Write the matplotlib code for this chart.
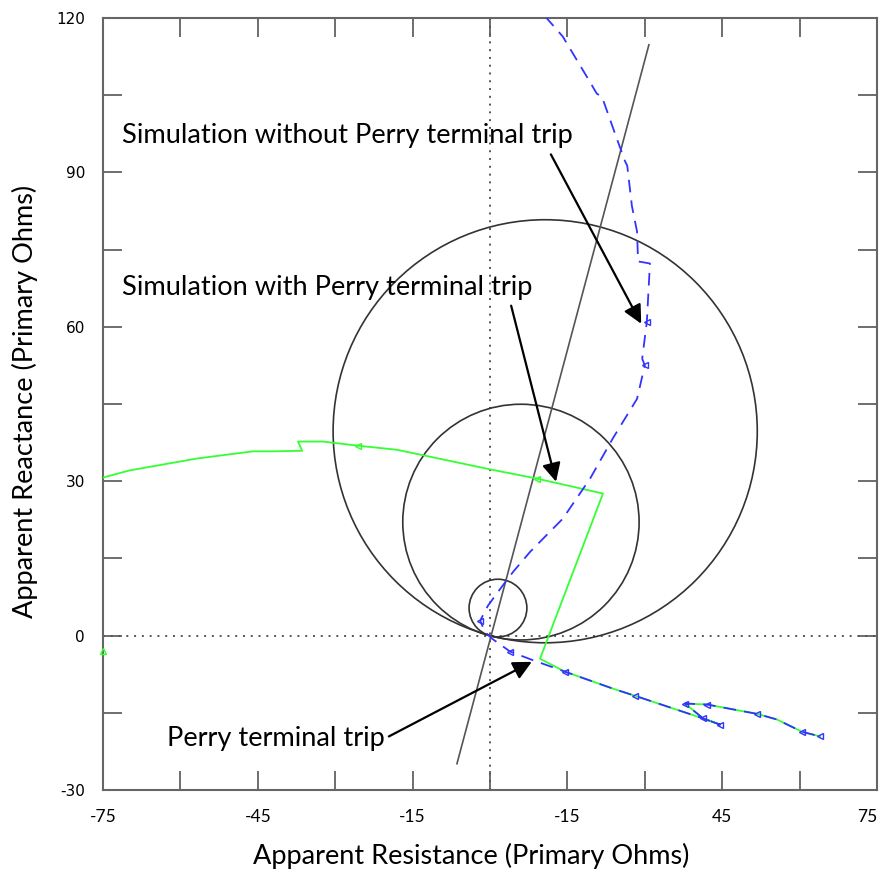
import numpy as np
import matplotlib.pyplot as plt
from matplotlib.patches import Circle

plt.rcParams['axes.unicode_minus'] = False

# mho circles (centre R, centre X, radius)
circ_r = [10.7, 6.0, 1.55]
circ_x = [39.7, 22.05, 5.35]
circ_rad = [41.1, 22.9, 5.6]

# line angle characteristic
line_r = [-6.4, 30.8]
line_x = [-24.9, 114.8]

# simulation without Perry terminal trip (blue)
blue_r = [10.7, 14.1, 19.0, 20.7, 21.7, 24.6, 26.2, 26.6, 27.5, 28.5, 28.7, 31.0, 30.4, 29.5,
          30.0, 28.5, 23.8, 19.4, 14.1, 7.8, 4.5, 2.3, -0.4, -1.9, -1.0, 0.4, 3.9, 8.1, 14.5,
          23.8, 28.1, 36.8, 41.3, 44.6, 41.3, 37.8, 42.1, 51.7, 55.6, 60.5, 64.0]
blue_x = [120.3, 116.4, 108.2, 105.3, 104.7, 96.5, 92.1, 91.3, 83.5, 78.5, 72.7, 72.3, 61.0, 53.8,
          52.5, 46.0, 38.3, 30.5, 22.7, 16.3, 12.4, 9.5, 5.8, 2.9, 0.8, -0.6, -3.1, -4.7, -7.0,
          -10.3, -11.7, -14.6, -16.1, -17.3, -16.1, -13.2, -13.4, -15.2, -16.3, -18.7, -19.6]
blue_marks = [12, 14, 23, 26, 28, 30, 32, 33, 35, 36, 37, 39, 40]

# simulation with Perry terminal trip (green)
green_r = [-75.0, -69.8, -56.8, -45.9, -42.1, -36.4, -37.2, -32.4, -25.6, -18.0, 0.0, 9.1, 21.9,
           9.7, 14.5, 23.8, 28.1, 36.8, 41.3, 44.6, 41.3, 37.8, 42.1, 51.7, 55.6, 60.5, 64.0]
green_x = [30.7, 32.1, 34.4, 35.8, 35.8, 35.9, 37.7, 37.7, 36.9, 36.1, 32.3, 30.5, 27.6,
           -4.5, -7.0, -10.3, -11.7, -14.6, -16.1, -17.3, -16.1, -13.2, -13.4, -15.2, -16.3, -18.7, -19.6]
green_marks = [8, 11]
green_pt = (-75.0, -2.9)

xticks = [-75, -45, -15, 15, 45, 75]
xticklabels = ['-75', '-45', '-15', '-15', '45', '75']
yticks = [-30, 0, 30, 60, 90, 120]

fig = plt.figure(figsize=(8.83, 8.73), dpi=100)
ax = fig.add_axes([0.1166, 0.0951, 0.8766, 0.8843])

ax.axvline(0, color='#555555', ls=(0, (1, 3)), lw=1.4, zorder=1)
ax.axhline(0, color='#555555', ls=(0, (1, 3)), lw=1.4, zorder=1)

for cr, cx, rad in zip(circ_r, circ_x, circ_rad):
    ax.add_patch(Circle((cr, cx), rad, fill=False, ec='#333333', lw=1.2, zorder=2))

ax.plot(line_r, line_x, color='#555555', lw=1.2, zorder=2)

ax.plot(green_r, green_x, color='#33ff33', lw=1.3, marker='<', ms=5, mfc='none',
        markevery=green_marks, zorder=3)
ax.plot([green_pt[0]], [green_pt[1]], color='#33ff33', marker='^', ms=5, mfc='none',
        clip_on=False, zorder=3)
ax.plot(blue_r, blue_x, color='#3333ff', lw=1.3, ls=(0, (7, 4.5)), marker='<', ms=5, mfc='none',
        markevery=blue_marks, zorder=4)

txt = dict(fontsize=19.6, family='Lato', color='black')
arr = dict(arrowstyle='-|>', color='black', lw=1.6, mutation_scale=28, shrinkA=0, shrinkB=0)
ax.annotate('', xy=(29.3, 60.6), xytext=(11.8, 93.5), arrowprops=arr, zorder=5)
ax.text(-71.3, 97.1, 'Simulation without Perry terminal trip', va='center', ha='left', **txt)
ax.annotate('', xy=(12.8, 29.9), xytext=(4.1, 64.1), arrowprops=arr, zorder=5)
ax.text(-71.3, 67.7, 'Simulation with Perry terminal trip', va='center', ha='left', **txt)
ax.annotate('', xy=(8.1, -5.1), xytext=(-19.6, -19.6), arrowprops=arr, zorder=5)
ax.text(-62.6, -20.0, 'Perry terminal trip', va='center', ha='left', **txt)

ax.set_xlim(-75, 75)
ax.set_ylim(-30, 120)
ax.set_xticks(xticks)
ax.set_xticklabels(xticklabels, family='Lato', fontsize=12.5)
ax.get_xticklabels()[-1].set_ha('right')
ax.set_xticks(np.arange(-75, 76, 15), minor=True)
ax.set_yticks(yticks)
ax.set_yticks(np.arange(-30, 121, 15), minor=True)
ax.tick_params(which='both', direction='in', length=14, width=1.2, color='#555555',
               top=True, right=True)
ax.tick_params(axis='x', pad=14)
ax.tick_params(axis='y', pad=13, labelsize=11)
for s in ax.spines.values():
    s.set_color('#666666')
    s.set_linewidth(1.5)

ax.set_xlabel('Apparent Resistance (Primary Ohms)', family='Lato', fontsize=19.5)
ax.xaxis.set_label_coords(0.4755, -0.069)
ax.set_ylabel('Apparent Reactance (Primary Ohms)', family='Lato', fontsize=19.5)
ax.yaxis.set_label_coords(-0.084, 0.503)

fig.savefig('out.png', dpi=100)
